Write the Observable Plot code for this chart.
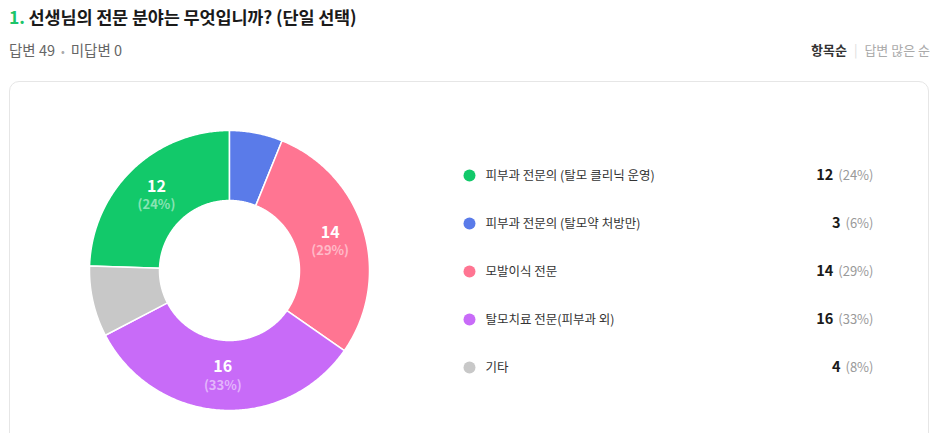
<!DOCTYPE html>
<html><head><meta charset="utf-8">
<script src="https://cdn.jsdelivr.net/npm/d3@7"></script>
<script src="https://cdn.jsdelivr.net/npm/@observablehq/plot@0.6"></script>
<style>
body{margin:0;background:#fff;font-family:"Noto Sans CJK KR","Noto Sans",sans-serif;width:941px;height:433px;overflow:hidden;position:relative}
#title{position:absolute;left:9px;top:5px;line-height:24px;font-size:17.5px;font-weight:700;color:#1a1a1a;letter-spacing:-0.15px;white-space:nowrap}
#title .num{color:#1dc46a}
#sub{position:absolute;left:9px;top:40px;line-height:20px;font-size:14.5px;color:#666;white-space:nowrap}
#sub .dot{color:#aaa;margin:0 6px;font-size:11px}
#sort{position:absolute;left:811px;top:40px;line-height:20px;font-size:13px;white-space:nowrap}
#sort .on{color:#333;font-weight:700}
#sort .sep{color:#ddd;margin:0 7px}
#sort .off{color:#aaa}
#box{position:absolute;left:9px;top:81px;width:918px;height:400px;border:1px solid #e6e6e6;border-radius:10px}
#pie{position:absolute;left:89px;top:130px}
#legend{position:absolute;left:455px;top:150px}
</style></head>
<body>
<div id="title"><span class="num">1.</span> 선생님의 전문 분야는 무엇입니까? (단일 선택)</div>
<div id="sub"></div>
<div id="sort"><span class="on">항목순</span><span class="sep">|</span><span class="off">답변 많은 순</span></div>
<div id="box"></div>
<div id="pie"></div>
<div id="legend"></div>
<script>
const categories = ["피부과 전문의 (탈모 클리닉 운영)", "피부과 전문의 (탈모약 처방만)", "모발이식 전문", "탈모치료 전문(피부과 외)", "기타"];
const counts = [12, 3, 14, 16, 4];
const percents = [24, 6, 29, 33, 8];
const colors = ["#12c96a", "#5a7be9", "#ff7592", "#c86bf8", "#c8c8c8"];
const answered = 49;
const unanswered = 0;

document.getElementById("sub").innerHTML = `답변 ${answered}<span class="dot">•</span>미답변 ${unanswered}`;

const total = d3.sum(counts);
const start = -counts[0] / total * 2 * Math.PI;
const arcs = d3.pie().sort(null).value(d => d).startAngle(start).endAngle(start + 2 * Math.PI)(counts);
const inner = 0.5, outer = 1;
const pts = [];
const labels = [];
arcs.forEach((a, i) => {
  const n = Math.max(2, Math.ceil((a.endAngle - a.startAngle) / 0.01));
  for (let k = 0; k <= n; k++) {
    const t = a.startAngle + (a.endAngle - a.startAngle) * k / n;
    pts.push({cat: categories[i], x: outer * Math.sin(t), y: outer * Math.cos(t)});
  }
  for (let k = n; k >= 0; k--) {
    const t = a.startAngle + (a.endAngle - a.startAngle) * k / n;
    pts.push({cat: categories[i], x: inner * Math.sin(t), y: inner * Math.cos(t)});
  }
  if (counts[i] / total >= 0.1) {
    const m = (a.startAngle + a.endAngle) / 2, r = (inner + outer) / 2;
    labels.push({x: r * Math.sin(m), y: r * Math.cos(m), v: String(counts[i]), p: `(${percents[i]}%)`});
  }
});

const pie = Plot.plot({
  width: 280, height: 280, margin: 0,
  style: {fontFamily: "'Noto Sans CJK KR', sans-serif", background: "transparent"},
  x: {domain: [-1, 1], axis: null},
  y: {domain: [-1, 1], axis: null},
  color: {domain: categories, range: colors},
  marks: [
    Plot.line(pts, {x: "x", y: "y", z: "cat", fill: "cat", stroke: "white", strokeWidth: 1.5, curve: "linear-closed"}),
    Plot.text(labels, {x: "x", y: "y", text: "v", fill: "white", fontSize: 16, fontWeight: 700, dy: -7.5, lineHeight: 0.9}),
    Plot.text(labels, {x: "x", y: "y", text: "p", fill: "white", fillOpacity: 0.5, fontSize: 13, fontWeight: 700, dy: 10.5, lineHeight: 0.9})
  ]
});
document.getElementById("pie").append(pie);

const ctx = document.createElement("canvas").getContext("2d");
ctx.font = "13px 'Noto Sans CJK KR'";
const legendData = categories.map((c, i) => ({c, v: String(counts[i]), p: `(${percents[i]}%)`, w: ctx.measureText(`(${percents[i]}%)`).width}));
const LW = 440, right = 418;
const legend = Plot.plot({
  width: LW, height: 240, margin: 0,
  style: {fontFamily: "'Noto Sans CJK KR', sans-serif", background: "transparent"},
  x: {domain: [0, LW], range: [0, LW], axis: null},
  y: {type: "point", domain: categories, range: [25, 217], padding: 0, axis: null},
  color: {domain: categories, range: colors},
  marks: [
    Plot.dot(legendData, {y: "c", frameAnchor: "left", dx: 14, r: 6, fill: "c"}),
    Plot.text(legendData, {y: "c", text: "c", frameAnchor: "left", dx: 30, textAnchor: "start", fill: "#333", fontSize: 12.5, letterSpacing: "-0.6px"}),
    Plot.text(legendData, {y: "c", text: "p", frameAnchor: "right", dx: right - LW, textAnchor: "end", fill: "#999", fontSize: 13}),
    Plot.text(legendData, {y: "c", x: d => right - d.w - 5, text: "v", textAnchor: "end", fill: "#1a1a1a", fontSize: 14.5, fontWeight: 700})
  ]
});
document.getElementById("legend").append(legend);
</script>
</body></html>
